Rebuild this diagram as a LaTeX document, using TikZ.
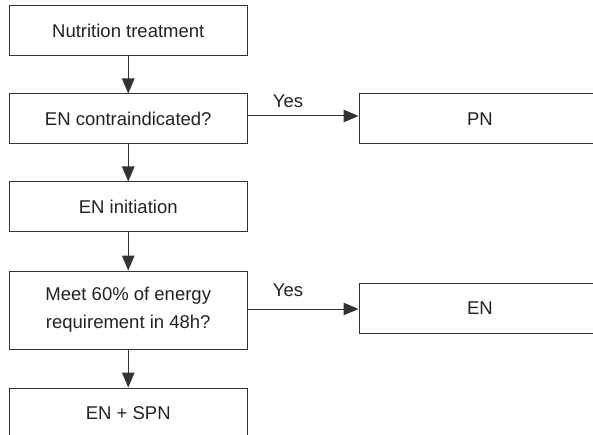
\documentclass[tikz,border=0pt]{standalone}
\usepackage{fontspec}
\setmainfont{Liberation Sans}
\usetikzlibrary{arrows.meta}
\definecolor{ln}{HTML}{333333}
\definecolor{tx}{HTML}{222222}
\tikzset{
  box/.style={draw=ln, line width=1pt, rectangle, inner sep=0pt, text=tx, align=center,
    font=\fontsize{18.5}{28}\selectfont},
  conn/.style={draw=ln, line width=1pt, -{Triangle[length=15pt,width=12.5pt]}},
  lbl/.style={text=tx, font=\fontsize{18.5}{20}\selectfont, inner sep=0pt}
}
\begin{document}
\begin{tikzpicture}[x=1pt,y=-1pt]
\useasboundingbox (0,0) rectangle (593,435);
\clip (0,0) rectangle (593,435);
\node[box, minimum width=238.5pt, minimum height=50pt] (b1) at (128.25,31) {Nutrition treatment};
\node[box, minimum width=238.5pt, minimum height=50pt] (b2) at (128.25,119) {EN contraindicated?};
\node[box, minimum width=238.5pt, minimum height=50pt] (b3) at (128.25,207) {EN initiation};
\node[box, minimum width=238.5pt, minimum height=78pt] (b4) at (128.25,310) {Meet 60\% of energy\\requirement in 48h?};
\node[box, minimum width=238.5pt, minimum height=50pt] (b5) at (128.25,413) {EN + SPN};
\node[box, minimum width=242pt, minimum height=50pt] (pn) at (480,119) {PN};
\node[box, minimum width=242pt, minimum height=50pt] (en) at (480,308) {EN};
\coordinate (a1) at ([yshift=3pt]b2.east);
\coordinate (a2) at ([yshift=1pt]b4.east);
\draw[conn] (b1) -- (b2);
\draw[conn] (b2) -- (b3);
\draw[conn] (b3) -- (b4);
\draw[conn] (b4) -- (b5);
\draw[conn] (a1) -- (a1 -| pn.west);
\draw[conn] (a2) -- (a2 -| en.west);
\node[lbl] (y1) at (288,101) {Yes};
\node[lbl] (y2) at (288,290) {Yes};
\end{tikzpicture}
\end{document}
